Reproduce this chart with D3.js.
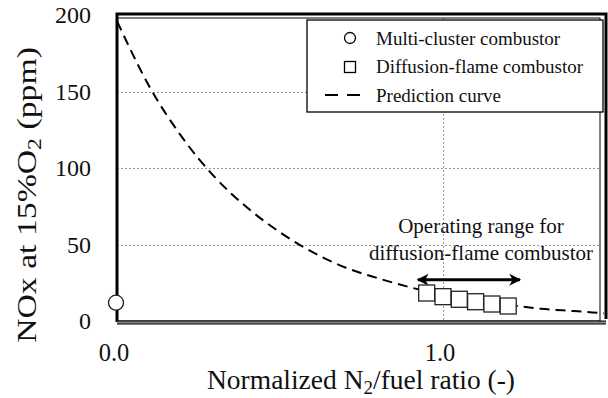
<!DOCTYPE html>
<html>
<head>
<meta charset="utf-8">
<script src="https://cdn.jsdelivr.net/npm/d3@7"></script>
<style>
  html, body { margin: 0; padding: 0; background: #fff; }
  svg { display: block; font-family: "Liberation Serif", "Times New Roman", serif; }
</style>
</head>
<body>
<svg id="chart" width="608" height="398"></svg>
<script>
// Multi-cluster combustor measurement (x = normalized N2/fuel ratio, y = NOx ppm)
const clusterX = [0.0];
const clusterY = [12];

// Diffusion-flame combustor measurements
const diffusionX = [0.95, 1.0, 1.05, 1.1, 1.15, 1.2];
const diffusionY = [18.3, 15.9, 14.2, 12.6, 11.1, 9.8];

// Prediction curve, sampled
const curveX = [0, 0.1, 0.2, 0.3, 0.4, 0.5, 0.6, 0.7, 0.8, 0.9, 1.0, 1.1, 1.2, 1.3, 1.4, 1.5];
const curveY = [196, 153, 120, 94, 74, 58, 45, 35, 28, 22, 17, 13, 10.5, 8, 6.5, 5];

// Operating range of the diffusion-flame combustor
const rangeX = [0.923, 1.236];
const rangeY = 27;

const xTicks = [0.0, 1.0];
const xTickLabels = ["0.0", "1.0"];
const yTicks = [0, 50, 100, 150, 200];

const svg = d3.select("#chart");
const mLeft = 117, mRight = 606, mTop = 15, mBottom = 321;

const x = d3.scaleLinear().domain([0, 1.5]).range([mLeft, mRight]);
const y = d3.scaleLinear().domain([0, 200]).range([mBottom, mTop]);

// gridlines
const grid = svg.append("g").attr("stroke", "#9a9a9a").attr("stroke-width", 1)
  .attr("stroke-dasharray", "2,2");
grid.selectAll("line.h").data(yTicks.filter(d => d > 0 && d < 200)).join("line")
  .attr("class", "h")
  .attr("x1", mLeft).attr("x2", 600)
  .attr("y1", d => Math.round(y(d)) + 0.5).attr("y2", d => Math.round(y(d)) + 0.5);
grid.selectAll("line.v").data(xTicks.filter(d => d > 0)).join("line")
  .attr("class", "v")
  .attr("y1", 18).attr("y2", mBottom)
  .attr("x1", d => Math.round(x(d)) + 0.5).attr("x2", d => Math.round(x(d)) + 0.5);

// plot frame
const frame = svg.append("g").attr("fill", "none");
frame.append("rect").attr("x", mLeft).attr("y", 18).attr("width", 600 - mLeft).attr("height", mBottom - 18)
  .attr("stroke", "#000").attr("stroke-width", 1);
frame.append("path").attr("d", `M${mLeft},${mBottom + 1}V${mTop - 1}H${mRight}V${mBottom - 2}`)
  .attr("stroke", "#000").attr("stroke-width", 3);
frame.append("line").attr("x1", mLeft).attr("x2", mRight).attr("y1", mBottom + 1.5).attr("y2", mBottom + 1.5)
  .attr("stroke", "#888").attr("stroke-width", 3);
frame.append("line").attr("x1", mLeft).attr("x2", mRight).attr("y1", mBottom + 3).attr("y2", mBottom + 3)
  .attr("stroke", "#000").attr("stroke-width", 1);
frame.append("line").attr("x1", mLeft).attr("x2", mRight).attr("y1", mBottom).attr("y2", mBottom)
  .attr("stroke", "#000").attr("stroke-width", 1);

// prediction curve
svg.append("clipPath").attr("id", "plotclip")
  .append("rect").attr("x", mLeft).attr("y", mTop).attr("width", mRight - mLeft - 2).attr("height", mBottom - mTop);
const line = d3.line().x(d => x(d[0])).y(d => y(d[1])).curve(d3.curveMonotoneX);
svg.append("path")
  .datum(d3.zip(curveX, curveY))
  .attr("clip-path", "url(#plotclip)")
  .attr("d", line)
  .attr("fill", "none").attr("stroke", "#000").attr("stroke-width", 2)
  .attr("stroke-dasharray", "10,6");

// operating range arrow
const defs = svg.append("defs");
defs.append("marker").attr("id", "ah").attr("viewBox", "0 0 10 10")
  .attr("refX", 9).attr("refY", 5).attr("markerWidth", 5).attr("markerHeight", 4)
  .attr("markerUnits", "strokeWidth").attr("orient", "auto-start-reverse")
  .append("path").attr("d", "M0,0L10,5L0,10L3,5Z").attr("fill", "#000");
svg.append("line")
  .attr("x1", x(rangeX[0])).attr("x2", x(rangeX[1]))
  .attr("y1", y(rangeY)).attr("y2", y(rangeY))
  .attr("stroke", "#000").attr("stroke-width", 3)
  .attr("marker-start", "url(#ah)").attr("marker-end", "url(#ah)");

// diffusion-flame points
const sq = 16;
svg.append("g").selectAll("rect").data(d3.zip(diffusionX, diffusionY)).join("rect")
  .attr("x", d => x(d[0]) - sq / 2).attr("y", d => y(d[1]) - sq / 2)
  .attr("width", sq).attr("height", sq)
  .attr("fill", "#fff").attr("stroke", "#222").attr("stroke-width", 1.3);

// multi-cluster point
svg.append("g").selectAll("circle").data(d3.zip(clusterX, clusterY)).join("circle")
  .attr("cx", d => x(d[0]) - 1).attr("cy", d => y(d[1]))
  .attr("r", 7.5).attr("fill", "#fff").attr("stroke", "#222").attr("stroke-width", 1.3);

// annotation
const ann = svg.append("text").attr("text-anchor", "middle").attr("font-size", 21).attr("fill", "#111");
ann.append("tspan").attr("x", 481).attr("y", 233).text("Operating range for");
ann.append("tspan").attr("x", 481).attr("y", 260).text("diffusion-flame combustor");

// tick labels
svg.append("g").selectAll("text").data(yTicks).join("text")
  .attr("x", 91).attr("y", d => y(d) + 8).attr("text-anchor", "end")
  .attr("font-size", 24).attr("fill", "#111").text(d => d);
svg.append("g").selectAll("text").data(xTicks).join("text")
  .attr("x", d => x(d) - 3).attr("y", 361).attr("text-anchor", "middle")
  .attr("font-size", 24.5).attr("fill", "#111").text((d, i) => xTickLabels[i]);

// axis titles
const xt = svg.append("text").attr("x", 361).attr("y", 389).attr("text-anchor", "middle")
  .attr("font-size", 27.5).attr("fill", "#111");
xt.append("tspan").text("Normalized N");
xt.append("tspan").attr("font-size", 19).attr("dy", 5).text("2");
xt.append("tspan").attr("dy", -5).text("/fuel ratio (-)");

const yt = svg.append("text").attr("transform", "translate(36,195) rotate(-90) scale(1.25,1)")
  .attr("text-anchor", "middle").attr("font-size", 27).attr("fill", "#111");
yt.append("tspan").text("NOx at 15%O");
yt.append("tspan").attr("font-size", 19).attr("dy", 5).text("2");
yt.append("tspan").attr("dy", -5).text(" (ppm)");

// legend
const lg = svg.append("g");
lg.append("rect").attr("x", 307).attr("y", 20).attr("width", 296).attr("height", 92)
  .attr("fill", "#fff").attr("stroke", "#000").attr("stroke-width", 1.3);
lg.append("circle").attr("cx", 350).attr("cy", 38).attr("r", 5.5).attr("fill", "#fff")
  .attr("stroke", "#000").attr("stroke-width", 1.3);
lg.append("rect").attr("x", 344.5).attr("y", 61.5).attr("width", 11).attr("height", 11).attr("fill", "#fff")
  .attr("stroke", "#000").attr("stroke-width", 1.3);
lg.append("line").attr("x1", 325).attr("x2", 360).attr("y1", 95).attr("y2", 95)
  .attr("stroke", "#000").attr("stroke-width", 2).attr("stroke-dasharray", "13,9");
const legendLabels = ["Multi-cluster combustor", "Diffusion-flame combustor", "Prediction curve"];
lg.selectAll("text.l").data(legendLabels).join("text").attr("class", "l")
  .attr("x", 376).attr("y", (d, i) => 44.5 + i * 28.5)
  .attr("font-size", 19).attr("fill", "#111").text(d => d);
</script>
</body>
</html>
